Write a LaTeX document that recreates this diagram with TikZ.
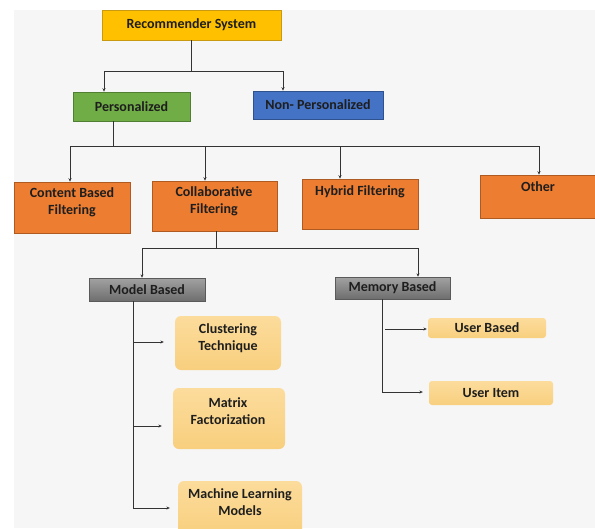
\documentclass[tikz,border=0pt]{standalone}
\usepackage{fontspec}
\setmainfont{Carlito}
\usetikzlibrary{arrows.meta}
\definecolor{bgc}{HTML}{F6F6F6}
\definecolor{txtc}{HTML}{1E1E1E}
\definecolor{lnc}{HTML}{333333}
\definecolor{rsfill}{HTML}{FFC000}
\definecolor{rsdraw}{HTML}{C99A10}
\definecolor{grfill}{HTML}{70AD47}
\definecolor{grdraw}{HTML}{507E32}
\definecolor{blfill}{HTML}{4472C4}
\definecolor{bldraw}{HTML}{2F528F}
\definecolor{orfill}{HTML}{ED7D31}
\definecolor{ordraw}{HTML}{AE5A21}
\definecolor{gytop}{HTML}{A2A2A2}
\definecolor{gybot}{HTML}{6E6E6E}
\definecolor{gydraw}{HTML}{5A5A5A}
\definecolor{yltop}{HTML}{FCDC9C}
\definecolor{ylbot}{HTML}{F8CF7E}
\tikzset{
  box/.style={rectangle, inner sep=0pt, align=center, text=txtc,
    font=\bfseries\fontsize{14}{17}\selectfont},
  lbl/.style={inner sep=0pt, align=center, text=txtc,
    font=\bfseries\fontsize{14}{17}\selectfont},
  rsbox/.style={box, fill=rsfill, draw=rsdraw, line width=0.7pt},
  grbox/.style={box, fill=grfill, draw=grdraw, line width=0.7pt},
  blbox/.style={box, fill=blfill, draw=bldraw, line width=0.7pt},
  orbox/.style={box, fill=orfill, draw=ordraw, line width=0.7pt},
  gybox/.style={box, top color=gytop, bottom color=gybot, draw=gydraw, line width=0.5pt},
  ylbox/.style={box, top color=yltop, bottom color=ylbot, rounded corners=6pt},
  ylsmall/.style={box, top color=yltop, bottom color=ylbot, rounded corners=3pt},
  ln/.style={draw=lnc, line width=1pt},
  arr/.style={ln, -{Stealth[length=3.4pt,width=3pt]}},
}
\begin{document}
\begin{tikzpicture}[x=1pt,y=-1pt]
\useasboundingbox (0,0) rectangle (595,528);
\fill[white] (0,0) rectangle (595,528);
\fill[bgc] (14,10) rectangle (595,528);
\begin{scope}
\clip (0,0) rectangle (595,528);
% level 0
\node[rsbox, minimum width=179pt, minimum height=30pt] (rs) at (191.5,25) {Recommender System};
% level 1
\node[grbox, minimum width=117pt, minimum height=29pt] (pers) at (131.5,106.5) {Personalized};
\node[blbox, minimum width=130pt, minimum height=28pt] (np) at (318,105) {Non- Personalized};
% level 2
\node[orbox, minimum width=116pt, minimum height=51pt] (cbf) at (72,207.5) {};
\node[lbl] (cbft) at (72,202.5) {Content Based\\Filtering};
\node[orbox, minimum width=125pt, minimum height=50pt] (collab) at (214.5,206) {};
\node[lbl] (collabt) at (214,201.5) {Collaborative\\Filtering};
\node[orbox, minimum width=116pt, minimum height=50pt] (hybrid) at (360,204) {};
\node[lbl] (hybridt) at (360,192) {Hybrid Filtering};
\node[orbox, minimum width=117pt, minimum height=43pt] (other) at (538.5,196.5) {};
\node[lbl] (othert) at (538,187) {Other};
% level 3
\node[gybox, minimum width=116pt, minimum height=23pt] (model) at (147,289.5) {Model Based};
\node[gybox, minimum width=115pt, minimum height=22pt] (memory) at (392.5,288) {Memory Based};
% level 4
\node[ylbox, minimum width=106pt, minimum height=54pt] (clust) at (228,343) {};
\node[lbl] (clustt) at (228,338) {Clustering\\Technique};
\node[ylbox, minimum width=112pt, minimum height=61pt] (matrix) at (229,418.5) {};
\node[lbl] (matrixt) at (228,411) {Matrix\\Factorization};
\node[ylbox, minimum width=124pt, minimum height=54pt] (ml) at (240,508) {};
\node[lbl] (mlt) at (240,502.5) {Machine Learning\\Models};
\node[ylsmall, minimum width=118pt, minimum height=20pt] (ubased) at (487,328) {User Based};
\node[ylsmall, minimum width=124pt, minimum height=24pt] (uitem) at (491,393) {User Item};
\end{scope}
% connectors level 0 -> 1
\coordinate (b1) at (191.5,71);
\draw[ln] (rs.south) -- (b1);
\draw[arr] (b1) -| ([xshift=-27.5pt]pers.north);
\draw[arr] (b1) -| ([xshift=-35pt]np.north);
% level 1 -> 2
\coordinate (b2) at (113,146);
\draw[ln] ([xshift=-18.5pt]pers.south) -- (b2);
\draw[arr] (b2) -| ([xshift=-2pt]cbf.north);
\draw[arr] (b2) -| ([xshift=-9.5pt]collab.north);
\draw[arr] (b2) -| ([xshift=-20pt]hybrid.north);
\draw[arr] (b2) -| ([xshift=0.5pt]other.north);
% level 2 -> 3
\coordinate (b3) at (216.5,248);
\draw[ln] ([xshift=2pt]collab.south) -- (b3);
\draw[arr] (b3) -| ([xshift=-5pt]model.north);
\draw[arr] (b3) -| ([xshift=25.5pt]memory.north);
% model based trunk
\coordinate (t1) at (133,508);
\draw[ln] ([xshift=-14pt]model.south) -- (t1);
\draw[arr, shorten >=11pt] (t1 |- 0,342) -- (clust.west |- 0,342);
\draw[arr, shorten >=11pt] (t1 |- 0,426) -- (matrix.west |- 0,426);
\draw[arr, shorten >=8pt] (t1) -- (ml.west |- t1);
% memory based trunk
\coordinate (t2) at (382,392);
\draw[ln] ([xshift=-10.5pt]memory.south) -- (t2);
\draw[arr, shorten >=1pt] ([xshift=3pt]t2 |- 0,329) -- (ubased.west |- 0,329);
\draw[arr, shorten >=6pt] (t2) -- (uitem.west |- t2);
\end{tikzpicture}
\end{document}
